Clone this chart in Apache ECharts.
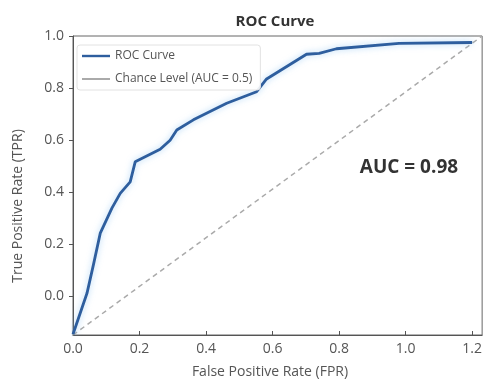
<!DOCTYPE html>
<html>
<head>
<meta charset="utf-8">
<script src="https://cdn.jsdelivr.net/npm/echarts@6/dist/echarts.min.js"></script>
<style>html,body{margin:0;padding:0;background:#fff;}#c{width:485px;height:387px;}</style>
</head>
<body>
<div id="c"></div>
<script>
const rocFpr = [0, 0.042, 0.062, 0.082, 0.117, 0.142, 0.172, 0.187, 0.262, 0.292, 0.312, 0.362, 0.462, 0.552, 0.582, 0.702, 0.74, 0.792, 0.98, 1.2];
const rocTpr = [-0.145, 0.012, 0.125, 0.243, 0.339, 0.396, 0.44, 0.517, 0.565, 0.6, 0.639, 0.678, 0.742, 0.786, 0.835, 0.93, 0.933, 0.951, 0.972, 0.975];
const chanceFpr = [0, 1.23];
const chanceTpr = [-0.148, 1.0];
const xTicks = [0, 0.2, 0.4, 0.6, 0.8, 1.0, 1.2];
const yTicks = [0, 0.2, 0.4, 0.6, 0.8, 1.0];
const aucText = 'AUC = 0.98';
const aucPos = [1.01, 0.493];

const font = '"Open Sans", "DejaVu Sans", sans-serif';
const chart = echarts.init(document.getElementById('c'), null, {renderer: 'canvas'});
chart.setOption({
  animation: false,
  backgroundColor: '#fff',
  textStyle: {fontFamily: font},
  title: {
    text: 'ROC Curve', left: 270, top: 9, textAlign: 'center',
    textStyle: {fontFamily: font, fontSize: 15, fontWeight: 'bold', color: '#333'}
  },
  graphic: [
    {type: 'text', x: 270, y: 372, style: {text: 'False Positive Rate (FPR)', fontFamily: font, fontSize: 14, fill: '#555', align: 'center', verticalAlign: 'middle'}},
    {type: 'text', x: 18, y: 206, rotation: Math.PI / 2, style: {text: 'True Positive Rate (TPR)', fontFamily: font, fontSize: 14, fill: '#555', align: 'center', verticalAlign: 'middle'}}
  ],
  grid: {left: 73, right: 2, top: 36, bottom: 52, show: true, borderColor: '#666', borderWidth: 1, backgroundColor: 'transparent'},
  legend: {
    orient: 'vertical', left: 77, top: 45, itemWidth: 28, itemHeight: 12, itemGap: 11,
    padding: [5, 8, 5, 5],
    borderColor: '#e2e2e2', borderWidth: 1, borderRadius: 3, backgroundColor: 'rgba(255,255,255,0.9)',
    textStyle: {fontFamily: font, fontSize: 12, color: '#555'},
    data: [
      {name: 'ROC Curve', icon: 'path://M0,5L28,5L28,7.4L0,7.4Z', itemStyle: {color: '#2e5e9e'}},
      {name: 'Chance Level (AUC = 0.5)', icon: 'path://M0,5.6L28,5.6L28,6.6L0,6.6Z', itemStyle: {color: '#555'}}
    ]
  },
  xAxis: {
    type: 'value', min: 0, max: 1.23,
    axisLine: {show: true, onZero: false, lineStyle: {color: '#555', width: 1}},
    axisTick: {show: true, inside: true, length: 4, lineStyle: {color: '#555'}, customValues: xTicks},
    axisLabel: {fontFamily: font, fontSize: 14, color: '#555', margin: 7, customValues: xTicks, formatter: v => v.toFixed(1)},
    splitLine: {show: false}
  },
  yAxis: {
    type: 'value', min: -0.148, max: 1.0,
    axisLine: {show: true, onZero: false, lineStyle: {color: '#555', width: 1}},
    axisTick: {show: true, inside: false, length: 4, lineStyle: {color: '#555'}, customValues: yTicks},
    axisLabel: {fontFamily: font, fontSize: 14, color: '#555', margin: 9, customValues: yTicks, formatter: v => v.toFixed(1)},
    splitLine: {show: false}
  },
  series: [
    {
      name: 'Chance Level (AUC = 0.5)', type: 'line', symbol: 'none', z: 2,
      data: chanceFpr.map((x, i) => [x, chanceTpr[i]]),
      lineStyle: {color: '#aaa', width: 1.5, type: [5, 4]}
    },
    {
      name: 'ROC Curve', type: 'line', symbol: 'none', z: 3,
      data: rocFpr.map((x, i) => [x, rocTpr[i]]),
      lineStyle: {color: '#2e5e9e', width: 2.8, shadowColor: 'rgba(120,185,240,0.6)', shadowBlur: 6},
      markPoint: {
        silent: true, symbolSize: 0,
        data: [{coord: aucPos, label: {show: true, position: 'inside', formatter: aucText, fontFamily: font, fontSize: 19, fontWeight: 'bold', color: '#333'}}]
      }
    }
  ]
});
</script>
</body>
</html>
